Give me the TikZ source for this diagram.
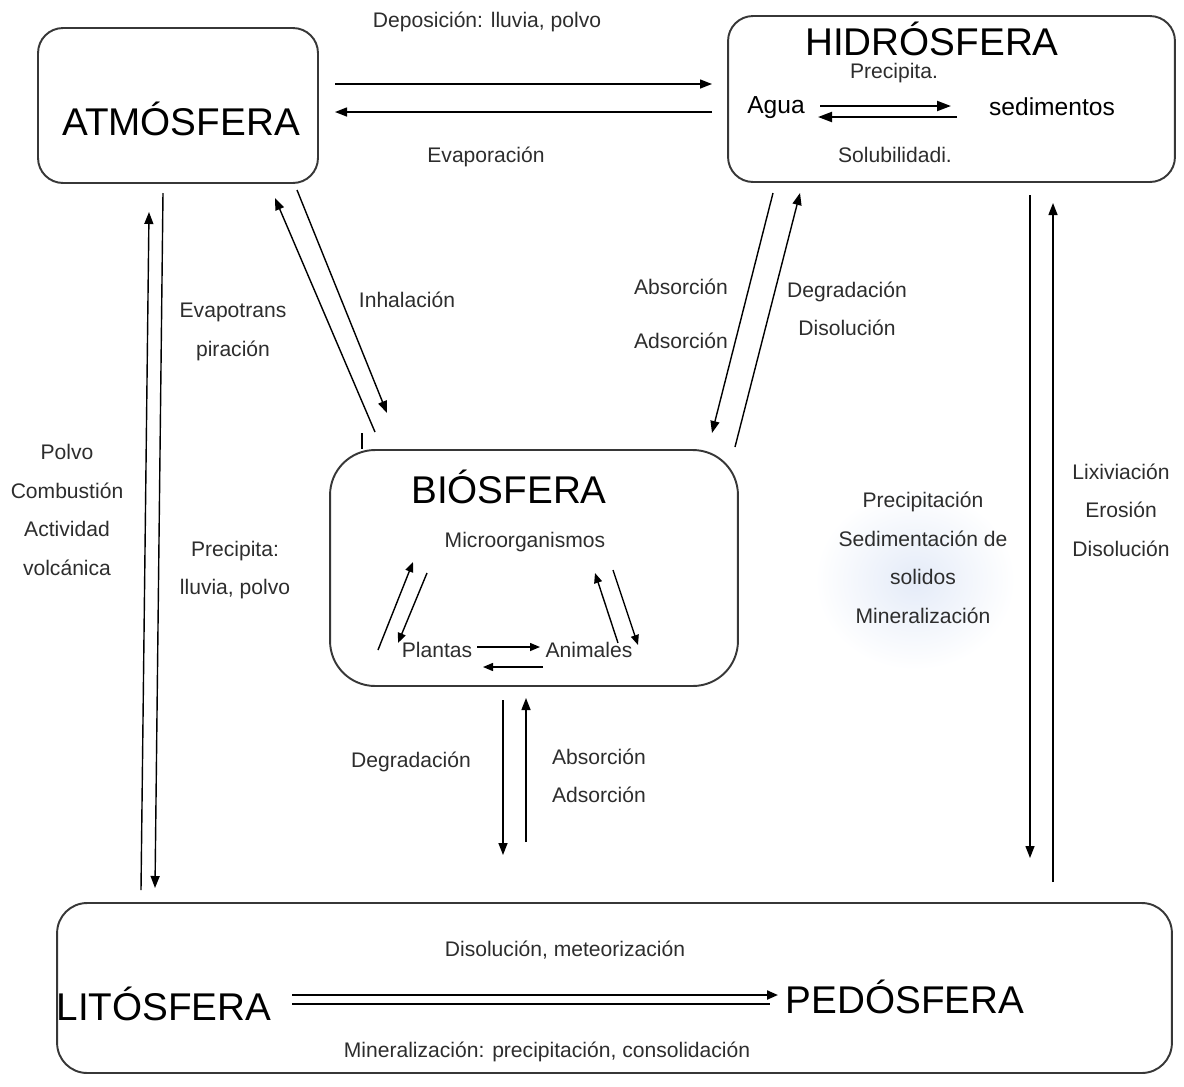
\documentclass[tikz,border=0pt]{standalone}
\usepackage{fontspec}
\setmainfont{Liberation Sans}
\usetikzlibrary{arrows.meta}
\definecolor{boxgray}{RGB}{55,55,55}
\definecolor{labelgray}{RGB}{45,45,45}
\definecolor{glowblue}{RGB}{228,235,248}
\begin{document}
\begin{tikzpicture}[x=0.02cm,y=-0.02cm]

%
% Styles
%
\tikzstyle{sphere}  = [draw=boxgray,line width=1.1pt,inner sep=0pt]
\tikzstyle{title}   = [font=\fontsize{22}{26}\selectfont,inner sep=0pt,anchor=base]
\tikzstyle{proc}    = [font=\fontsize{12}{22}\selectfont,text=labelgray,align=center,inner sep=0pt]
\tikzstyle{flow}    = [->,>={Triangle[length=2.4mm,width=1.8mm]},line width=0.8pt]
\tikzstyle{bioflow} = [->,>={Triangle[length=2mm,width=1.6mm]},line width=0.8pt]
\tikzstyle{thick}   = [line width=1.2pt]

\useasboundingbox (0,0) rectangle (1184,1086);

% glow behind the sediment text
\shade[inner color=glowblue,outer color=white] (915,580) ellipse (100 and 90);

% spheres
\node[sphere,rounded corners=0.5cm,minimum width=5.6cm,minimum height=3.1cm]   (atmbox) at (178,105.5) {};
\node[sphere,rounded corners=0.5cm,minimum width=8.94cm,minimum height=3.32cm] (hidbox) at (951.5,99) {};
\node[sphere,rounded corners=0.9cm,minimum width=8.16cm,minimum height=4.72cm] (biobox) at (534,568) {};
\node[sphere,rounded corners=0.6cm,minimum width=22.3cm,minimum height=3.4cm]  (litbox) at (614.5,988) {};

\node[title] (atm) at (181,135)  {ATMÓSFERA};
\node[title] (hid) at (932,55)   {HIDRÓSFERA};
\node[title] (bio) at (509,503)  {BIÓSFERA};
\node[title] (lit) at (164,1020) {LITÓSFERA};
\node[title] (ped) at (905,1013) {PEDÓSFERA};

% inside the hydrosphere
\node[font=\fontsize{14}{16}\selectfont,inner sep=0pt] (agua) at (776,108)  {Agua};
\node[font=\fontsize{14}{16}\selectfont,inner sep=0pt] (sed)  at (1052,107) {sedimentos};
\node[proc] (precip) at (894,73)  {Precipita.};
\node[proc] (solub)  at (895,155) {Solubilidadi.};

% inside the biosphere
\node[proc] (micro)    at (525,542) {Microorganismos};
\node[proc] (plantas)  at (437,650) {Plantas};
\node[proc] (animales) at (589,650) {Animales};

% process labels
\node[proc] (depos)  at (487,22)  {Deposición: lluvia, polvo};
\node[proc] (evap)   at (486,157) {Evaporación};
\node[proc] (inhal)  at (407,300) {Inhalación};
\node[proc] (evapo)  at (233,332) {Evapotrans\\piración};
\node[proc] (absorh) at (681,314) {Absorción\\[9pt]Adsorción};
\node[proc] (degrh)  at (847,309) {Degradación\\Disolución};
\node[proc] (polvo)  at (67,510)  {Polvo\\Combustión\\Actividad\\volcánica};
\node[proc] (lluvia) at (235,570) {Precipita:\\lluvia, polvo};
\node[proc] (sedim)  at (923,558) {Precipitación\\Sedimentación de\\solidos\\Mineralización};
\node[proc] (lixiv)  at (1121,510) {Lixiviación\\Erosión\\Disolución};
\node[proc] (degrb)  at (411,762) {Degradación};
\node[proc] (absorb) at (599,776) {Absorción\\Adsorción};
\node[proc] (disol)  at (565,950) {Disolución, meteorización};
\node[proc] (miner)  at (547,1052) {Mineralización: precipitación, consolidación};

% arrow ends
\coordinate (ah1) at (335,84);   \coordinate (ah2) at (712,84);
\coordinate (ha1) at (712,112);  \coordinate (ha2) at (335,112);
\coordinate (la1) at (141,890);  \coordinate (la2) at (149,212);
\coordinate (al1) at (163,193);  \coordinate (al2) at (155,888);
\coordinate (ba1) at (375,432);  \coordinate (ba2) at (275,198);
\coordinate (ab1) at (297,190);  \coordinate (ab2) at (387,413);
\coordinate (hb1) at (773,193);  \coordinate (hb2) at (712,433);
\coordinate (bh1) at (735,447);  \coordinate (bh2) at (800,193);
\coordinate (hl1) at (1030,195); \coordinate (hl2) at (1030,858);
\coordinate (lh1) at (1053,882); \coordinate (lh2) at (1053,203);
\coordinate (bl1) at (503,700);  \coordinate (bl2) at (503,855);
\coordinate (lb1) at (526,842);  \coordinate (lb2) at (526,698);
\coordinate (tick1) at (362,433); \coordinate (tick2) at (362,449);

\draw[flow] (ah1) -- (ah2);
\draw[flow] (ha1) -- (ha2);
\draw[flow] (la1) -- (la2);
\draw[flow] (al1) -- (al2);
\draw[flow] (ba1) -- (ba2);
\draw[flow] (ab1) -- (ab2);
\draw[flow] (hb1) -- (hb2);
\draw[flow] (bh1) -- (bh2);
\draw[flow] (hl1) -- (hl2);
\draw[flow] (lh1) -- (lh2);
\draw[flow] (bl1) -- (bl2);
\draw[flow] (lb1) -- (lb2);
\draw[line width=0.8pt] (tick1) -- (tick2);

% water <-> sediments
\coordinate (w1) at (820,106); \coordinate (w2) at (951,106);
\coordinate (w3) at (957,117); \coordinate (w4) at (818,117);
\draw[thick,->,>={Triangle[length=2.8mm,width=2mm]}] (w1) -- (w2);
\draw[thick,->,>={Triangle[length=2.8mm,width=2mm]}] (w3) -- (w4);

% food web
\coordinate (p1) at (378,650); \coordinate (p2) at (413,562);
\coordinate (p3) at (427,573); \coordinate (p4) at (398,643);
\coordinate (m1) at (618,643); \coordinate (m2) at (595,573);
\coordinate (m3) at (613,570); \coordinate (m4) at (638,645);
\coordinate (pa1) at (477,647); \coordinate (pa2) at (540,647);
\coordinate (ap1) at (543,667); \coordinate (ap2) at (483,667);
\draw[bioflow] (p1) -- (p2);
\draw[bioflow] (p3) -- (p4);
\draw[bioflow] (m1) -- (m2);
\draw[bioflow] (m3) -- (m4);
\draw[bioflow] (pa1) -- (pa2);
\draw[bioflow] (ap1) -- (ap2);

% lithosphere -> pedosphere
\coordinate (lp1) at (292,995);  \coordinate (lp2) at (778,995);
\coordinate (lp3) at (292,1004); \coordinate (lp4) at (770,1004);
\draw[thick,->,>={Triangle[length=2.2mm,width=1.8mm]}] (lp1) -- (lp2);
\draw[thick] (lp3) -- (lp4);

\end{tikzpicture}
\end{document}
